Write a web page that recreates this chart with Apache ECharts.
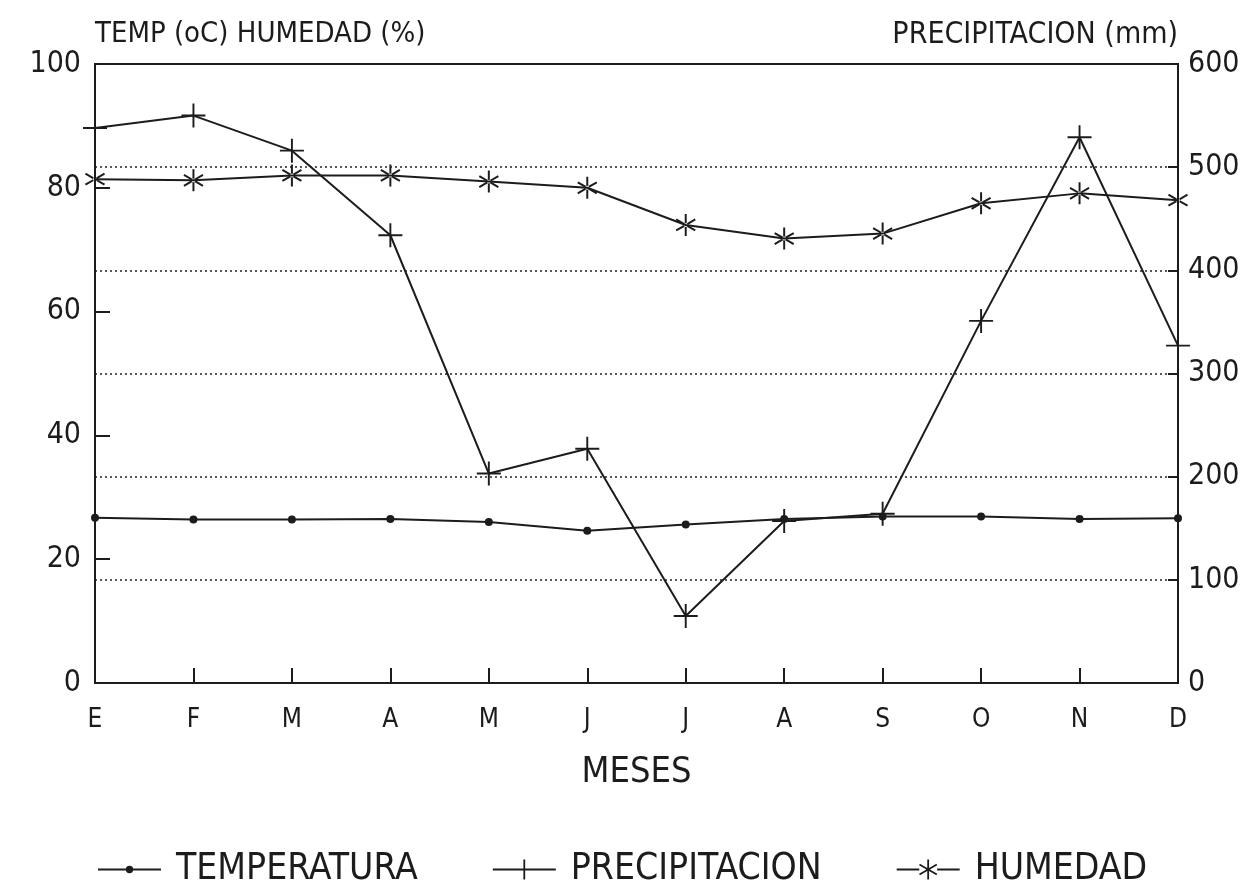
<!DOCTYPE html>
<html>
<head>
<meta charset="utf-8">
<script src="https://cdn.jsdelivr.net/npm/echarts@6/dist/echarts.min.js"></script>
<style>
html, body { margin: 0; padding: 0; background: #fff; }
#chart { width: 1253px; height: 887px; }
</style>
</head>
<body>
<div id="chart"></div>
<script>
// datos
var meses = ['E', 'F', 'M', 'A', 'M', 'J', 'J', 'A', 'S', 'O', 'N', 'D'];
var temperatura = [26.7, 26.4, 26.4, 26.5, 26.0, 24.6, 25.6, 26.5, 26.9, 26.9, 26.5, 26.6];
var precipitacion = [538, 550, 516, 434, 203, 227, 65, 157, 164, 351, 529, 327];
var humedad = [81.4, 81.2, 82.0, 82.0, 81.0, 80.0, 74.0, 71.8, 72.6, 77.5, 79.1, 78.0];

var FONT = "'DejaVu Sans Condensed', 'DejaVu Sans', sans-serif";
var INK = '#1c1c1c';

// asterisco de 6 brazos como un solo poligono (cx, cy centro; L brazo; w medio ancho)
function starPoly(cx, cy, L, w) {
    var pts = [];
    for (var k = 0; k < 6; k++) {
        var t = (90 + 60 * k) * Math.PI / 180;
        var dx = Math.cos(t), dy = Math.sin(t);
        var nx = -dy, ny = dx;
        pts.push([cx + L * dx - w * nx, cy - (L * dy - w * ny)]);
        pts.push([cx + L * dx + w * nx, cy - (L * dy + w * ny)]);
        var ti = t + Math.PI / 6;
        pts.push([cx + 2 * w * Math.cos(ti), cy - 2 * w * Math.sin(ti)]);
    }
    return 'M' + pts.map(function(p) { return p[0].toFixed(2) + ',' + p[1].toFixed(2); }).join('L') + 'Z';
}

var plusPath = 'path://M9.2,0h1.6v9.2h9.2v1.6h-9.2v9.2h-1.6v-9.2h-9.2v-1.6h9.2z';
var starPath = 'path://' + starPoly(10, 10, 10, 0.9) + 'M8.2,10a1.8,1.8 0 1,1 3.6,0a1.8,1.8 0 1,1 -3.6,0z';

// iconos de la leyenda: linea + marca, caja 63x20
var boxMarks = 'M0,0h0.05v0.05h-0.05z M62.95,19.95h0.05v0.05h-0.05z';
var legendLine = 'M0,9.1h63v1.8h-63z';
var iconTemp = 'path://' + boxMarks + legendLine + 'M27.8,10a3.7,3.7 0 1,1 7.4,0a3.7,3.7 0 1,1 -7.4,0z';
var iconPrec = 'path://' + boxMarks + legendLine + 'M30.6,0h1.8v20h-1.8z';
var iconHum = 'path://' + boxMarks + starPoly(31.5, 10, 10, 0.9) + 'M0,9.1h22.6v1.8h-22.6z M40.4,9.1h22.6v1.8h-22.6z';

var chart = echarts.init(document.getElementById('chart'));

var option = {
    animation: false,
    backgroundColor: '#fff',
    textStyle: { fontFamily: FONT, color: INK },
    grid: {
        left: 95,
        right: 75,
        top: 64,
        bottom: 204,
        show: true,
        borderColor: INK,
        borderWidth: 2
    },
    legend: {
        left: 93,
        top: 846,
        itemWidth: 63,
        itemHeight: 20,
        itemGap: 75,
        textStyle: { fontFamily: FONT, fontSize: 37, color: INK, padding: [0, 0, 0, 10] },
        data: [
            { name: 'TEMPERATURA', icon: iconTemp },
            { name: 'PRECIPITACION', icon: iconPrec },
            { name: 'HUMEDAD', icon: iconHum }
        ]
    },
    xAxis: {
        type: 'category',
        data: meses,
        boundaryGap: false,
        name: 'MESES',
        nameLocation: 'middle',
        nameGap: 72,
        nameTextStyle: { fontFamily: FONT, fontSize: 36, color: INK },
        axisLine: { lineStyle: { color: INK, width: 2 } },
        axisTick: { inside: true, length: 15, lineStyle: { color: INK, width: 2 } },
        axisLabel: { fontFamily: FONT, fontSize: 26, color: INK, margin: 24 },
        splitLine: { show: false }
    },
    yAxis: [{
        type: 'value',
        min: 0,
        max: 100,
        interval: 20,
        name: 'TEMP (oC) HUMEDAD (%)',
        nameLocation: 'end',
        nameGap: 15,
        nameTextStyle: { fontFamily: FONT, fontSize: 29, color: INK, align: 'left' },
        axisLine: { show: true, lineStyle: { color: INK, width: 2 } },
        axisTick: { show: true, inside: true, length: 15, lineStyle: { color: INK, width: 2 } },
        axisLabel: { fontFamily: FONT, fontSize: 30, color: INK, margin: 14 },
        splitLine: { show: false }
    }, {
        type: 'value',
        min: 0,
        max: 600,
        interval: 100,
        position: 'right',
        name: 'PRECIPITACION (mm)',
        nameLocation: 'end',
        nameGap: 14,
        nameTextStyle: { fontFamily: FONT, fontSize: 30, color: INK, align: 'right' },
        axisLine: { show: true, lineStyle: { color: INK, width: 2 } },
        axisTick: { show: true, inside: true, length: 10, lineStyle: { color: INK, width: 2 } },
        axisLabel: { fontFamily: FONT, fontSize: 30, color: INK, margin: 10 },
        splitLine: { show: true, lineStyle: { color: '#222', width: 1.6, type: [2, 3] } }
    }],
    series: [{
        name: 'TEMPERATURA',
        type: 'line',
        yAxisIndex: 0,
        data: temperatura,
        symbol: 'circle',
        symbolSize: 8,
        itemStyle: { color: INK },
        lineStyle: { color: INK, width: 2 }
    }, {
        name: 'PRECIPITACION',
        type: 'line',
        yAxisIndex: 1,
        data: precipitacion,
        symbol: plusPath,
        symbolSize: 24,
        symbolKeepAspect: true,
        itemStyle: { color: INK },
        lineStyle: { color: INK, width: 2 }
    }, {
        name: 'HUMEDAD',
        type: 'line',
        yAxisIndex: 0,
        data: humedad,
        symbol: starPath,
        symbolSize: 22,
        symbolKeepAspect: true,
        itemStyle: { color: INK },
        lineStyle: { color: INK, width: 2 }
    }]
};

chart.setOption(option);
</script>
</body>
</html>
